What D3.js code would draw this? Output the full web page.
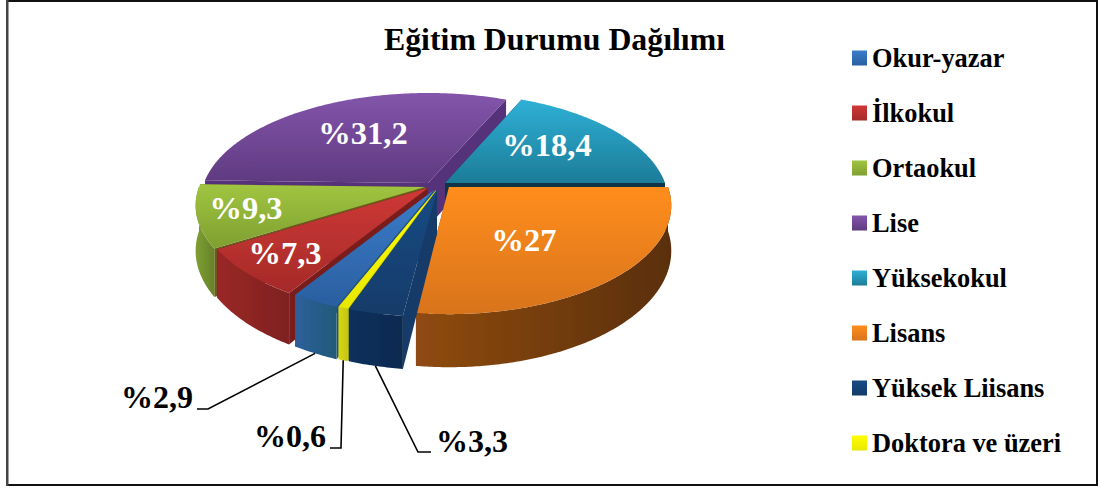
<!DOCTYPE html>
<html lang="tr"><head><meta charset="utf-8">
<script src="https://cdn.jsdelivr.net/npm/d3@7/dist/d3.min.js"></script>
<style>html,body{margin:0;background:#fff}svg{display:block}text{font-family:"Liberation Serif","Times New Roman",serif;font-weight:700}</style>
</head><body><svg id="c" width="1100" height="489"></svg>
<script>
const categories = ["Okur-yazar","İlkokul","Ortaokul","Lise","Yüksekokul","Lisans","Yüksek Liisans","Doktora ve üzeri"];
const values = [2.9,7.3,9.3,31.2,18.4,27,3.3,0.6];
const valueLabels = ["%2,9","%7,3","%9,3","%31,2","%18,4","%27","%3,3","%0,6"];
const title = "Eğitim Durumu Dağılımı";

// styling and layout, per category
const topColors  = [["#3b7ccb","#2a5f9f"],["#cf3836","#a52a29"],["#a0c540","#7f9f31"],["#8355ab","#5f3a80"],["#2fb0d6","#1c7c98"],["#ff8d1c","#d8741e"],["#174a84","#123c69"],["#ffff00","#e8e800"]];
const wallColors = [["#2f5f9c","#1f5a78"],["#9a2826","#7f2120"],["#7f9f32","#66822a"],["#4f2c72","#4f2c72"],["#0e4a5e","#0e3a48"],["#8f4b12","#5a2f08"],["#10305c","#0f2a50"],["#d8d810","#c4c414"]];
const radialColors = ["#24507f","#7a1f1e","#6c5a1c","#56307a","#0c3644","#7a3f0c","#123a68","#b8b810"];
const apex = [[434,190],[428,188],[425,187],[428,183],[445,183],[449,187],[437,190],[436,190]];
const radii = [226,226,226,224,220,219,226,226];
const labelPos = [null,[285,264],[246,219],[363,144],[547,156],[524,251],null,null];
const outerLabels = {0:{x:157,y:408,pts:[[208,409],[197,409]]},7:{x:290,y:447,pts:[[341,448],[330,448]]},6:{x:472,y:452,pts:[[418,452],[431,452]]}};

const a = 105.4, b = 0.171, h = 44;
const svg = d3.select("#c");
const defs = svg.append("defs");
defs.append("filter").attr("id","soft").attr("x","-5%").attr("y","-5%").attr("width","110%").attr("height","110%")
  .append("feGaussianBlur").attr("stdDeviation",0.6);
function grad(id, c, horizontal){
  const g = defs.append("linearGradient").attr("id",id).attr("x1",0).attr("y1",0).attr("x2",horizontal?1:0).attr("y2",horizontal?0:1);
  g.append("stop").attr("offset",0).attr("stop-color",c[0]);
  g.append("stop").attr("offset",1).attr("stop-color",c[1]);
}
categories.forEach((_,i)=>{grad("t"+i,topColors[i],false);grad("w"+i,wallColors[i],true);});

const total = d3.sum(values);
const before = d3.sum(values.slice(0,5));
const start = Math.PI/2 - before/total*2*Math.PI;
const arcs = d3.pie().sort(null).value(d=>d).startAngle(start).endAngle(start+2*Math.PI)(values);

function P(i, t, r, z){
  const u = r*Math.cos(t), v = r*Math.sin(t), k = 1-b*v;
  return [apex[i][0]+radii[i]*u/k, apex[i][1]+(a*v+z*h)/k];
}
const line = d3.line();
const TAU = 2*Math.PI;
function norm(t0,t1){ let s=t0; while(s<-1e-6) s+=TAU; return [s, s+(t1-t0)]; }
const slices = arcs.map((d,i)=>{ const [t0,t1]=norm(d.startAngle-Math.PI/2,d.endAngle-Math.PI/2); return {i,t0,t1,mid:(t0+t1)/2}; });
function samples(t0,t1){ const n=Math.max(2,Math.ceil((t1-t0)/0.01)); return d3.range(n+1).map(k=>t0+(t1-t0)*k/n); }

const pie = svg.append("g").attr("filter","url(#soft)");
slices.slice().sort((p,q)=>d3.ascending(Math.sin(p.mid),Math.sin(q.mid))).forEach(s=>{
  const {i,t0,t1}=s, g=pie.append("g");
  [t0,t1].forEach(t=>{
    g.append("path").attr("fill",radialColors[i])
     .attr("d",line([P(i,t,0,0),P(i,t,1,0),P(i,t,1,1),P(i,t,0,1)])+"Z");
  });
  const w0=Math.max(t0,0), w1=Math.min(t1,Math.PI);
  if(w1>w0){
    const ts=samples(w0,w1);
    const pts=ts.map(t=>P(i,t,1,0)).concat(ts.slice().reverse().map(t=>P(i,t,1,1)));
    g.append("path").attr("fill",`url(#w${i})`).attr("d",line(pts)+"Z");
  }
  const top=[P(i,t0,0,0)].concat(samples(t0,t1).map(t=>P(i,t,1,0)));
  g.append("path").attr("fill",`url(#t${i})`).attr("d",line(top)+"Z");
});

// frame
svg.append("path").attr("fill","none").attr("stroke","#111").attr("stroke-width",2).attr("d","M7,1H1097V485H7Z");
svg.append("rect").attr("x",6).attr("y",0).attr("width",2.5).attr("height",486).attr("fill","#444");

svg.append("text").attr("x",554.5).attr("y",50).attr("text-anchor","middle").attr("font-size",31.8).attr("fill","#000").text(title);

// labels on the pie
categories.forEach((_,i)=>{ if(labelPos[i]) svg.append("text").attr("x",labelPos[i][0]).attr("y",labelPos[i][1]).attr("text-anchor","middle").attr("font-size",32.5).attr("fill","#fff").text(valueLabels[i]); });

// outer labels + leaders
Object.keys(outerLabels).forEach(k=>{
  const i=+k,o=outerLabels[k],s=slices[i],tm=s.mid;
  svg.append("text").attr("x",o.x).attr("y",o.y).attr("text-anchor","middle").attr("font-size",32).attr("fill","#000").text(valueLabels[i]);
  svg.append("path").attr("fill","none").attr("stroke","#000").attr("stroke-width",1.6)
    .attr("d",line([P(i,tm,1,1),o.pts[0],o.pts[1]]));
});

// legend
const ly = d3.scalePoint().domain(categories).range([58,443]);
const lg = svg.append("g");
categories.forEach((c,i)=>{
  lg.append("rect").attr("x",852).attr("y",ly(c)-7.5).attr("width",15).attr("height",15).attr("fill",`url(#t${i})`);
  lg.append("text").attr("x",872).attr("y",ly(c)+8.5).attr("font-size",26.4).attr("fill","#000").text(c);
});
</script></body></html>
